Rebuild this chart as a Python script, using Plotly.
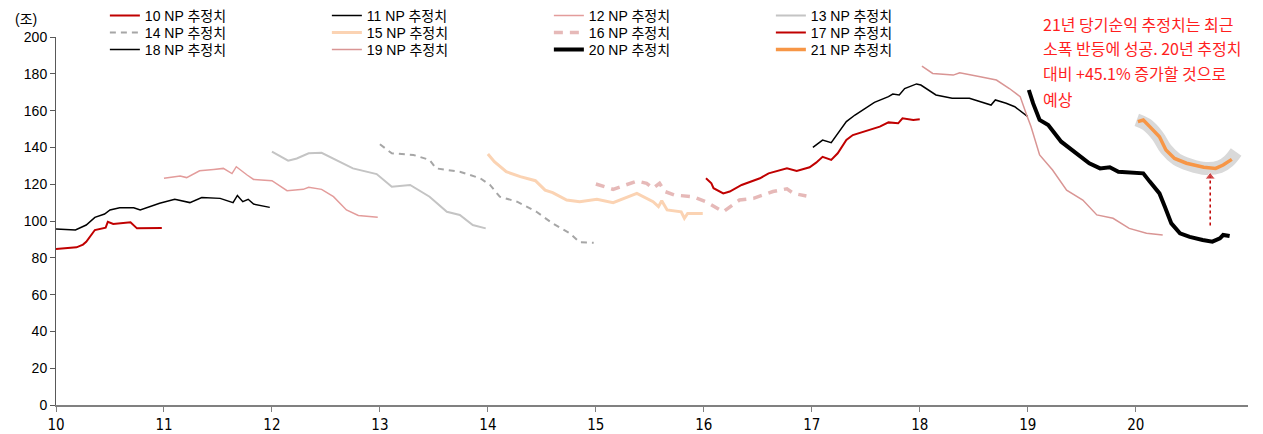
import plotly.graph_objects as go

# ---- data ----
s10_x = [10.0, 10.1, 10.19, 10.25, 10.28, 10.36, 10.46, 10.48, 10.53, 10.69, 10.75, 10.98]
s10_y = [84.8, 85.2, 85.7, 87.2, 88.7, 95.1, 96.4, 99.6, 98.4, 99.3, 96.0, 96.2]

s11_x = [10.0, 10.18, 10.28, 10.36, 10.45, 10.5, 10.59, 10.72, 10.78, 10.96, 11.1, 11.24,
         11.35, 11.52, 11.64, 11.68, 11.73, 11.78, 11.83, 11.98]
s11_y = [95.7, 95.1, 97.8, 102.0, 103.8, 106.0, 107.2, 107.2, 106.0, 109.6, 111.8, 110.0,
         112.8, 112.3, 110.0, 113.9, 110.5, 111.8, 109.2, 107.4]

s12_x = [11.0, 11.15, 11.21, 11.33, 11.46, 11.55, 11.63, 11.67, 11.77, 11.83, 12.0, 12.14,
         12.29, 12.34, 12.46, 12.57, 12.69, 12.8, 12.98]
s12_y = [123.2, 124.5, 123.6, 127.3, 128.0, 128.6, 125.8, 129.5, 125.0, 122.6, 121.9, 116.5,
         117.2, 118.3, 117.2, 113.2, 106.0, 103.0, 102.0]

s13_x = [12.0, 12.15, 12.23, 12.34, 12.46, 12.57, 12.75, 12.97, 13.11, 13.28, 13.46, 13.62,
         13.74, 13.86, 13.98]
s13_y = [137.7, 132.8, 134.0, 136.8, 137.1, 134.0, 128.6, 125.5, 118.6, 119.6, 113.2, 105.0,
         103.3, 97.8, 96.0]

s14_x = [13.0, 13.11, 13.31, 13.46, 13.52, 13.74, 13.93, 14.02, 14.11, 14.27, 14.45, 14.6,
         14.76, 14.85, 14.98]
s14_y = [141.7, 136.8, 135.9, 133.2, 128.6, 126.8, 123.2, 119.6, 113.2, 110.5, 105.0, 98.7,
         93.3, 88.4, 88.2]

s15_x = [14.0, 14.06, 14.17, 14.3, 14.44, 14.53, 14.6, 14.73, 14.85, 15.01, 15.16, 15.38,
         15.53, 15.58, 15.61, 15.66, 15.79, 15.82, 15.85, 15.99]
s15_y = [136.4, 132.2, 126.8, 124.1, 121.9, 116.8, 115.4, 111.4, 110.5, 111.8, 110.0, 115.0,
         110.5, 107.8, 111.0, 106.0, 105.0, 101.5, 104.1, 104.1]

s16_x = [15.0, 15.16, 15.38, 15.47, 15.53, 15.59, 15.64, 15.73, 15.9, 16.02, 16.18, 16.33,
         16.46, 16.64, 16.77, 16.83, 16.95]
s16_y = [120.1, 117.2, 121.7, 120.5, 117.8, 120.5, 116.0, 114.1, 113.2, 110.5, 105.0, 111.4,
         112.3, 116.0, 117.5, 115.0, 113.6]

s17_x = [16.02, 16.07, 16.09, 16.18, 16.24, 16.35, 16.52, 16.6, 16.77, 16.86, 16.98, 17.04,
         17.1, 17.18, 17.24, 17.32, 17.38, 17.54, 17.63, 17.71, 17.8, 17.84, 17.94, 18.0]
s17_y = [123.2, 120.5, 117.8, 115.0, 116.0, 119.6, 123.2, 125.9, 128.6, 127.2, 129.2, 131.7,
         134.9, 133.2, 136.8, 144.0, 146.7, 149.5, 151.3, 153.6, 153.1, 155.8, 154.9, 155.3]

s18_x = [17.01, 17.1, 17.18, 17.32, 17.4, 17.58, 17.71, 17.75, 17.81, 17.86, 17.97, 18.01,
         18.15, 18.3, 18.46, 18.66, 18.7, 18.8, 18.88, 18.96, 19.0]
s18_y = [140.0, 144.0, 142.6, 154.0, 157.6, 164.5, 167.6, 169.0, 168.5, 172.0, 174.5, 173.9,
         168.5, 166.7, 166.7, 163.0, 165.8, 164.0, 162.1, 158.5, 156.7]

s19_x = [18.02, 18.12, 18.31, 18.37, 18.56, 18.71, 18.83, 18.93, 18.99, 19.03, 19.11, 19.23,
         19.36, 19.51, 19.64, 19.79, 19.94, 20.1, 20.25]
s19_y = [184.2, 180.2, 179.3, 180.6, 178.4, 176.6, 172.0, 167.6, 157.6, 151.3, 135.9, 127.7,
         116.8, 111.4, 103.3, 101.5, 96.0, 93.3, 92.4]

s20_x = [19.01, 19.05, 19.11, 19.19, 19.31, 19.39, 19.48, 19.57, 19.67, 19.76, 19.84, 20.07,
         20.13, 20.22, 20.27, 20.33, 20.41, 20.5, 20.62, 20.71, 20.78, 20.81, 20.87]
s20_y = [171.2, 163.9, 154.9, 152.2, 143.1, 139.5, 135.9, 131.4, 128.6, 129.2, 126.8, 125.9,
         121.4, 115.0, 107.8, 98.7, 93.3, 91.4, 89.7, 88.8, 90.6, 92.4, 91.8]

s21_x = [20.02, 20.07, 20.13, 20.22, 20.28, 20.36, 20.47, 20.63, 20.74, 20.81, 20.89]
s21_y = [154.0, 154.9, 151.3, 145.8, 138.6, 134.0, 131.4, 129.2, 128.6, 130.4, 133.5]

# grey highlight band behind the 21 estimate and the dotted arrow
hl_x = [20.01, 20.1, 20.2, 20.28, 20.38, 20.5, 20.65, 20.78, 20.86, 20.93]
hl_y = [155.0, 152.5, 146.5, 139.0, 133.5, 130.5, 128.5, 129.5, 132.5, 137.5]
arrow_x = [20.69, 20.69]
arrow_y = [97.5, 124.0]

year_ticks = list(range(10, 21))
y_ticks = list(range(0, 201, 20))

note_lines = ['21년 당기순익 추정치는 최근',
              '소폭 반등에 성공. 20년 추정치',
              '대비 +45.1% 증가할 것으로',
              '예상']

KR = 'Liberation Sans, Arial, Noto Sans CJK KR'

# name, x, y, color, width, dash, legend
series = [
    ('10 NP 추정치', s10_x, s10_y, '#C00000', 2, 'solid', 'legend'),
    ('11 NP 추정치', s11_x, s11_y, '#000000', 1.5, 'solid', 'legend'),
    ('12 NP 추정치', s12_x, s12_y, '#E39C9B', 1.5, 'solid', 'legend'),
    ('13 NP 추정치', s13_x, s13_y, '#C4C4C4', 2, 'solid', 'legend'),
    ('14 NP 추정치', s14_x, s14_y, '#A6A6A6', 2, '6px,5px', 'legend2'),
    ('15 NP 추정치', s15_x, s15_y, '#FBD3B3', 3, 'solid', 'legend2'),
    ('16 NP 추정치', s16_x, s16_y, '#E6B9B8', 3.5, '9px,7px', 'legend2'),
    ('17 NP 추정치', s17_x, s17_y, '#C00000', 2, 'solid', 'legend2'),
    ('18 NP 추정치', s18_x, s18_y, '#000000', 1.5, 'solid', 'legend3'),
    ('19 NP 추정치', s19_x, s19_y, '#D99594', 1.5, 'solid', 'legend3'),
    ('20 NP 추정치', s20_x, s20_y, '#000000', 4, 'solid', 'legend3'),
    ('21 NP 추정치', s21_x, s21_y, '#F79646', 3.5, 'solid', 'legend3'),
]

fig = go.Figure()

# highlight band goes underneath everything
fig.add_trace(go.Scatter(x=hl_x, y=hl_y, mode='lines', showlegend=False,
                         line=dict(color='#D9D9D9', width=13, shape='spline'),
                         hoverinfo='skip'))

for name, xs, ys, color, width, dash, leg in series:
    fig.add_trace(go.Scatter(
        x=xs, y=ys, mode='lines', name=name, legend=leg,
        line=dict(color=color, width=width, dash=dash),
    ))

# dotted arrow pointing at the 21 estimate
fig.add_trace(go.Scatter(
    x=arrow_x, y=arrow_y, mode='lines+markers', showlegend=False,
    line=dict(color='#C00000', width=1.5, dash='dot'),
    marker=dict(symbol='triangle-up', size=[0, 9], color='#C00000'),
    hoverinfo='skip'))

legend_common = dict(orientation='h', xanchor='left', yanchor='middle', x=0.041,
                     entrywidth=177, bgcolor='rgba(0,0,0,0)',
                     font=dict(family=KR, size=14, color='#000000'),
                     tracegroupgap=0)

# red note, one annotation per line to keep the wide line spacing
note_y = [1.035, 0.970, 0.902, 0.832]
annotations = [dict(text='(조)', xref='paper', yref='paper', x=-0.036, y=1.05,
                    xanchor='left', yanchor='middle', showarrow=False,
                    font=dict(family=KR, size=14, color='#000000'))]
for line, ly in zip(note_lines, note_y):
    annotations.append(dict(text=line, xref='paper', yref='paper', x=0.826, y=ly,
                            xanchor='left', yanchor='middle', showarrow=False,
                            font=dict(family='Noto Sans CJK KR', size=16, color='#FF1E1E')))

# the page puts the figure 8px in from the top-left corner, so the
# figure is 8px smaller and the margins are shifted to keep the plot area in place
fig.update_layout(
    width=1255, height=426,
    margin=dict(l=48, r=15, t=29, b=29, autoexpand=False),
    plot_bgcolor='white', paper_bgcolor='white',
    font=dict(family=KR, size=14, color='#000000'),
    legend=dict(y=1.057, **legend_common),
    legend2=dict(y=1.011, **legend_common),
    legend3=dict(y=0.965, **legend_common),
    hovermode=False,
    annotations=annotations,
)

fig.update_xaxes(range=[10, 21.04], tickmode='array', tickvals=year_ticks,
                 ticktext=[str(t) for t in year_ticks],
                 showgrid=False, zeroline=False, showline=True,
                 linecolor='#808080', linewidth=1.5,
                 ticks='outside', ticklen=5, tickcolor='#808080',
                 tickfont=dict(family='Liberation Sans Narrow, DejaVu Sans Condensed, Arial Narrow',
                               size=15, color='#000000'))
fig.update_yaxes(range=[0, 200], tickmode='array', tickvals=y_ticks,
                 showgrid=False, zeroline=False, showline=True,
                 linecolor='#595959', linewidth=1,
                 ticks='outside', ticklen=5, tickcolor='#595959',
                 tickfont=dict(family=KR, size=14, color='#000000'))

fig.write_html('out.html')
